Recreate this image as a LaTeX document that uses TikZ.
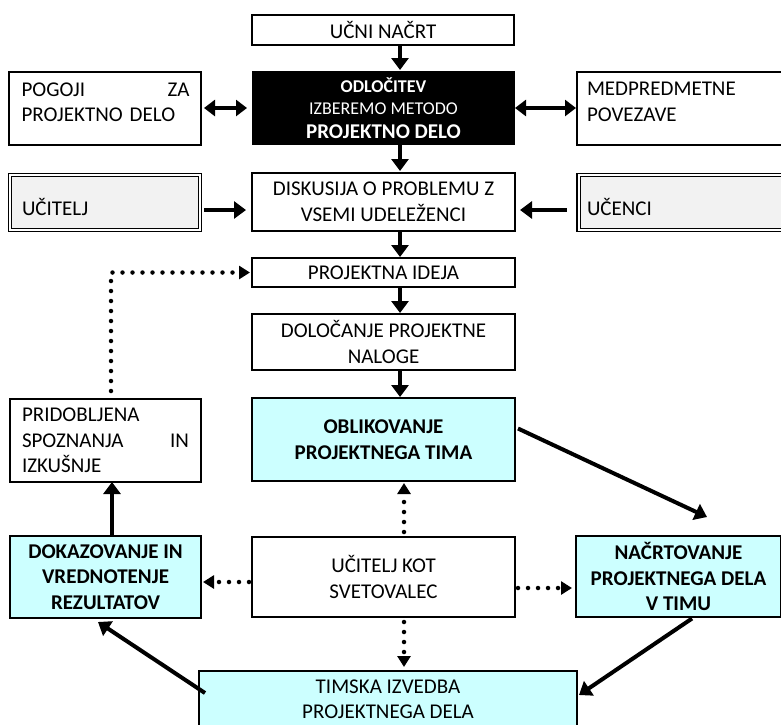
\documentclass[tikz,border=0pt]{standalone}
\usepackage{fontspec}
\setmainfont{Carlito}
\usetikzlibrary{arrows.meta}
\definecolor{paleCyan}{HTML}{CCFFFF}
\definecolor{paleGray}{HTML}{F2F2F2}
\begin{document}
\begin{tikzpicture}[x=1pt,y=-1pt,
  box/.style={draw=black, line width=1.8pt, inner sep=0pt, outer sep=0pt,
    font=\fontsize{21}{25.5}\selectfont, align=center},
  boldbox/.style={box, font=\fontsize{21}{25.5}\selectfont\bfseries, fill=paleCyan},
  dbox/.style={draw=black, line width=1.1pt, double=white, double distance=2pt,
    fill=paleGray, inner sep=0pt, outer sep=0pt},
  txt/.style={inner sep=0pt, outer sep=0pt, font=\fontsize{21}{25.5}\selectfont},
  arr/.style={line width=4pt, -{Triangle[length=12pt,width=17pt]}},
  darr/.style={line width=4pt, {Triangle[length=11pt,width=16pt]}-{Triangle[length=11pt,width=16pt]}},
  dots/.style={line width=4.5pt, line cap=round, dash pattern=on 0pt off 10pt,
    -{Triangle[length=11pt,width=13pt]}}]
\useasboundingbox (0,0) rectangle (781,724);
\clip (0,0) rectangle (781,724);

% top column
\node[box, minimum width=262pt, minimum height=30pt] (ucni) at (383,30) {UČNI NAČRT};
\node[box, fill=black, text=white, minimum width=261pt, minimum height=72pt,
  font=\fontsize{18}{22.5}\selectfont] (odl) at (383.5,108)
  {{\bfseries ODLOČITEV}\\ IZBEREMO METODO\\[1pt] {\fontsize{21}{25}\selectfont\bfseries PROJEKTNO DELO}};
\node[box, minimum width=192pt, minimum height=73pt] (pogoji) at (105,108.5) {};
\node[txt, anchor=north west, text width=168pt, align=left] (pogoji-t) at (21.5,82.5)
  {POGOJI\hfill ZA\\PROJEKTNO DELO};
\node[box, minimum width=209pt, minimum height=73pt] (medpred) at (681.5,108.5) {};
\node[txt, anchor=north west, align=left] (medpred-t) at (587,82.5)
  {MEDPREDMETNE\\POVEZAVE};

\node[box, minimum width=263pt, minimum height=58pt] (disk) at (383.5,202)
  {DISKUSIJA O PROBLEMU Z\\VSEMI UDELEŽENCI};
\node[dbox, minimum width=190pt, minimum height=55pt] (ucitelj) at (105,202.5) {};
\node[txt, anchor=base west] (ucitelj-t) at (22,215) {UČITELJ};
\node[dbox, minimum width=211pt, minimum height=55pt] (ucenci) at (684,202.5) {};
\node[txt, anchor=base west] (ucenci-t) at (587,215) {UČENCI};

\node[box, minimum width=263pt, minimum height=29pt] (ideja) at (383.5,272.5) {PROJEKTNA IDEJA};
\node[box, minimum width=263pt, minimum height=56pt] (dol) at (383.5,342)
  {DOLOČANJE PROJEKTNE\\NALOGE};
\node[boldbox, minimum width=263pt, minimum height=83pt] (oblik) at (383.5,439.5)
  {OBLIKOVANJE\\PROJEKTNEGA TIMA};
\node[box, minimum width=191pt, minimum height=83pt, text width=167pt, align=left] (pridob) at (105.5,440.5)
  {PRIDOBLJENA\\SPOZNANJA\hfill IN\\IZKUŠNJE};

% lower cycle
\node[boldbox, minimum width=191pt, minimum height=82pt] (dokaz) at (105.5,577)
  {DOKAZOVANJE IN\\VREDNOTENJE\\REZULTATOV};
\node[box, minimum width=263pt, minimum height=80pt] (kot) at (383.5,577)
  {UČITELJ KOT\\SVETOVALEC};
\node[boldbox, minimum width=205pt, minimum height=81pt] (nacrt) at (678.5,576.5)
  {NAČRTOVANJE\\PROJEKTNEGA DELA\\V TIMU};
\node[box, fill=paleCyan, minimum width=378pt, minimum height=56pt] (timska) at (388,699)
  {TIMSKA IZVEDBA\\PROJEKTNEGA DELA};

% reference lines for straight connectors
\coordinate (vx) at (400,0);
\coordinate (dx) at (404,0);
\coordinate (lx) at (112,0);
\coordinate (px) at (111,0);
\coordinate (hy1) at (0,108);
\coordinate (hy2) at (0,210);
\coordinate (hy3) at (0,582);
\coordinate (hy4) at (0,588);

% main flow
\draw[arr, shorten >=2pt] (ucni.south -| vx) -- (odl.north -| vx);
\draw[arr, shorten >=2pt] (odl.south -| vx) -- (disk.north -| vx);
\draw[arr, shorten >=1pt] (disk.south -| vx) -- (ideja.north -| vx);
\draw[arr, shorten >=1pt] (ideja.south -| vx) -- (dol.north -| vx);
\draw[arr, shorten >=1pt] (dol.south -| vx) -- (oblik.north -| vx);

\draw[darr, shorten <=3pt, shorten >=6pt] (pogoji.east |- hy1) -- (odl.west |- hy1);
\draw[darr, shorten <=1pt, shorten >=1pt] (odl.east |- hy1) -- (medpred.west |- hy1);
\draw[arr, shorten <=4pt, shorten >=6pt] (ucitelj.east |- hy2) -- (disk.west |- hy2);
\draw[arr, shorten <=12pt, shorten >=5pt] (ucenci.west |- hy2) -- (disk.east |- hy2);

\draw[arr] ([shift={(3,-11)}]oblik.east) -- ([shift={(131,-19)}]nacrt.north west);
\draw[arr] ([shift={(13.5,1.5)}]nacrt.south) -- ([shift={(2,24)}]timska.north east);
\draw[arr] ([shift={(6,22)}]timska.north west) -- ([shift={(-7.5,4)}]dokaz.south);
\draw[arr] (dokaz.north -| lx) -- (pridob.south -| lx);

% advisory links
\draw[dots, shorten <=5pt, shorten >=2pt] (kot.north -| dx) -- (oblik.south -| dx);
\draw[dots, shorten <=5pt, shorten >=4pt] (kot.south -| dx) -- (timska.north -| dx);
\draw[dots, shorten <=3pt, shorten >=2pt] (kot.west |- hy3) -- (dokaz.east |- hy3);
\draw[dots, shorten <=3pt, shorten >=4pt] (kot.east |- hy4) -- (nacrt.west |- hy4);
\draw[dots, shorten <=8pt, shorten >=2pt] (pridob.north -| px) -- (px |- ideja.west) -- (ideja.west);
\end{tikzpicture}
\end{document}
